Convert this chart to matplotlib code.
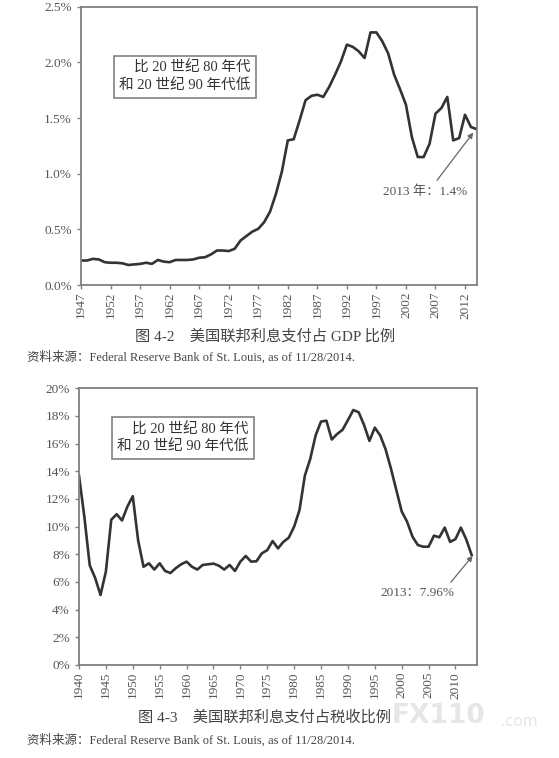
import matplotlib
matplotlib.use("Agg")
import matplotlib.pyplot as plt
from matplotlib.ticker import FuncFormatter

plt.rcParams['font.family'] = ['Liberation Serif', 'Noto Sans CJK SC']

# 图 4-2: federal interest payments as % of GDP
gdp_years = list(range(1947, 2015))
gdp_share = [
    0.22, 0.22, 0.235, 0.23, 0.205, 0.20, 0.20, 0.195, 0.18, 0.185,
    0.19, 0.20, 0.19, 0.225, 0.21, 0.205, 0.225, 0.225, 0.225, 0.23,
    0.245, 0.25, 0.275, 0.31, 0.31, 0.305, 0.325, 0.40, 0.44, 0.48,
    0.505, 0.565, 0.66, 0.82, 1.02, 1.30, 1.31, 1.48, 1.66, 1.70,
    1.71, 1.69, 1.78, 1.89, 2.01, 2.16, 2.14, 2.10, 2.04, 2.27,
    2.27, 2.19, 2.08, 1.89, 1.76, 1.62, 1.33, 1.15, 1.15, 1.27,
    1.54, 1.59, 1.69, 1.30, 1.32, 1.53, 1.42, 1.40,
]
gdp_ticks = list(range(1947, 2013, 5))

# 图 4-3: federal interest payments as % of tax receipts
tax_years = list(range(1940, 2014))
tax_share = [
    13.7, 10.7, 7.2, 6.3, 5.06, 6.75, 10.5, 10.9, 10.45, 11.45,
    12.2, 9.0, 7.1, 7.35, 6.9, 7.35, 6.8, 6.65, 7.0, 7.28,
    7.47, 7.1, 6.9, 7.23, 7.28, 7.33, 7.18, 6.9, 7.23, 6.8,
    7.47, 7.88, 7.47, 7.5, 8.07, 8.3, 8.96, 8.43, 8.9, 9.2,
    10.0, 11.2, 13.7, 14.9, 16.6, 17.6, 17.66, 16.3, 16.7, 17.0,
    17.7, 18.43, 18.27, 17.35, 16.2, 17.16, 16.6, 15.6, 14.2, 12.65,
    11.1, 10.36, 9.28, 8.67, 8.55, 8.55, 9.35, 9.23, 9.93, 8.9,
    9.1, 9.93, 9.08, 7.96,
]
tax_ticks = list(range(1940, 2014, 5))

box_text = "比 20 世纪 80 年代\n和 20 世纪 90 年代低"
LINE = "#333333"
GREY = "#555555"
SPINE = "#808080"


def style_axes(ax):
    for s in ax.spines.values():
        s.set_color(SPINE)
        s.set_linewidth(1.3)
    ax.tick_params(axis="both", direction="out", length=3, width=1,
                   color=SPINE, labelcolor=GREY, labelsize=9.5)
    ax.tick_params(axis="x", labelrotation=90, pad=2)


fig = plt.figure(figsize=(5.59, 7.58), dpi=100)

# top chart
ax1 = fig.add_axes([0.145, 0.624, 0.708, 0.367])
ax1.plot(gdp_years, gdp_share, color=LINE, lw=1.9)
ax1.set_xlim(1947, 2014)
ax1.set_ylim(0, 2.5)
ax1.set_xticks(gdp_ticks)
ax1.set_yticks([0, 0.5, 1.0, 1.5, 2.0, 2.5])
ax1.yaxis.set_major_formatter(FuncFormatter(lambda v, _: f"{v:.1f}%"))
style_axes(ax1)
ax1.text(1964.6, 1.87, box_text, ha="center", va="center", fontsize=10.5,
         color="#333333", multialignment="right", linespacing=1.35,
         bbox=dict(boxstyle="square,pad=0.35", fc="white", ec=SPINE, lw=1.2))
ax1.annotate("2013 年：1.4%", xy=(2013.4, 1.37), xytext=(2005.2, 0.84),
             ha="center", va="center", fontsize=9.5, color=GREY,
             arrowprops=dict(arrowstyle="-|>", color="#666666", lw=0.9,
                             relpos=(0.6, 1.0), shrinkA=2, shrinkB=0,
                             mutation_scale=8))

# bottom chart
ax2 = fig.add_axes([0.1413, 0.1227, 0.712, 0.365])
ax2.plot(tax_years, tax_share, color=LINE, lw=1.9)
ax2.set_xlim(1940, 2014)
ax2.set_ylim(0, 20)
ax2.set_xticks(tax_ticks)
ax2.set_yticks(range(0, 21, 2))
ax2.yaxis.set_major_formatter(FuncFormatter(lambda v, _: f"{v:.0f}%"))
style_axes(ax2)
ax2.text(1959.3, 16.4, box_text, ha="center", va="center", fontsize=10.5,
         color="#333333", multialignment="right", linespacing=1.35,
         bbox=dict(boxstyle="square,pad=0.35", fc="white", ec=SPINE, lw=1.2))
ax2.annotate("2013：7.96%", xy=(2013.2, 7.9), xytext=(2002.9, 5.2),
             ha="center", va="center", fontsize=9.5, color=GREY,
             arrowprops=dict(arrowstyle="-|>", color="#666666", lw=0.9,
                             relpos=(0.9, 1.0), shrinkA=2, shrinkB=0,
                             mutation_scale=8))

# captions and sources
fig.text(265 / 559, 1 - 337 / 758, "图 4-2　美国联邦利息支付占 GDP 比例",
         ha="center", va="center", fontsize=11, color="#444444")
fig.text(27 / 559, 1 - 357 / 758,
         "资料来源：Federal Reserve Bank of St. Louis, as of 11/28/2014.",
         ha="left", va="center", fontsize=9, color="#444444")
fig.text(265 / 559, 1 - 717 / 758, "图 4-3　美国联邦利息支付占税收比例",
         ha="center", va="center", fontsize=11, color="#444444")
fig.text(27 / 559, 1 - 740 / 758,
         "资料来源：Federal Reserve Bank of St. Louis, as of 11/28/2014.",
         ha="left", va="center", fontsize=9, color="#444444")

# faint watermark
fig.text(392 / 559, 1 - 716 / 758, "FX110", ha="left", va="center",
         fontsize=19, fontweight="bold", family="DejaVu Sans",
         color="#e6e6e6", zorder=-1)
fig.text(500 / 559, 1 - 721 / 758, ".com", ha="left", va="center",
         fontsize=11, family="DejaVu Sans", color="#e6e6e6", zorder=-1)

fig.savefig("out.png", dpi=100)
